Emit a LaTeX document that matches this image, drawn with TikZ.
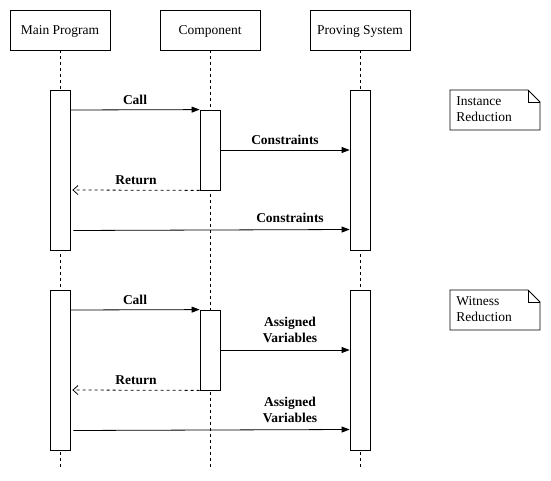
\documentclass[tikz,border=0pt]{standalone}
\usepackage{fontspec}
\setmainfont{Liberation Serif}
\usetikzlibrary{arrows.meta}
\begin{document}
\begin{tikzpicture}[x=1pt,y=-1pt,line width=0.8pt,
  head/.style={draw,minimum width=100pt,minimum height=40pt,inner sep=0pt,text depth=0pt,font=\fontsize{13.5}{15}\selectfont},
  act/.style={draw,fill=white,minimum width=20pt,inner sep=0pt},
  life/.style={dash pattern=on 3pt off 3pt},
  msg/.style={-{Triangle[length=8pt,width=6pt]}},
  ret/.style={dash pattern=on 3pt off 3pt,-{Straight Barb[length=5pt,width=9pt]}},
  lbl/.style={font=\bfseries\fontsize{13.5}{15.5}\selectfont,align=center,inner sep=0pt},
  note/.style={font=\fontsize{13.5}{16}\selectfont,align=left,anchor=north west,inner sep=0pt}]
\useasboundingbox (0,0) rectangle (551,481);
% headers
\node[head] (mp) at (60,30) {Main Program};
\node[head] (cp) at (210,30) {Component};
\node[head] (ps) at (360,30) {Proving System};
% lifelines
\coordinate (mpe) at (60,467);
\coordinate (cpe) at (210,467);
\coordinate (pse) at (360,467);
\draw[life] (mp.south) -- (mpe);
\draw[life] (cp.south) -- (cpe);
\draw[life] (ps.south) -- (pse);
% activations group 1
\node[act,minimum height=160pt] (m1) at (60,170) {};
\node[act,minimum height=80pt] (c1) at (210,150) {};
\node[act,minimum height=160pt] (p1) at (360,170) {};
% activations group 2
\node[act,minimum height=160pt] (m2) at (60,370) {};
\node[act,minimum height=80pt] (c2) at (210,350) {};
\node[act,minimum height=160pt] (p2) at (360,370) {};
% messages group 1
\draw[msg] (m1.east |- 0,110) -- (c1.north west) node[lbl,midway,above=5pt] {Call};
\draw[msg] (c1.east |- 0,150) -- (p1.west |- 0,150) node[lbl,midway,above=5pt] {Constraints};
\draw[ret] (c1.south west) -- ([xshift=2pt]m1.east |- 0,190) node[lbl,midway,above=5pt] {Return};
\draw[msg] ([xshift=3pt]m1.east |- 0,230.5) -- (p1.west |- 0,229.5);
\node[lbl] (l1) at (290,218) {Constraints};
% messages group 2
\draw[msg] (m2.east |- 0,310) -- (c2.north west) node[lbl,midway,above=5pt] {Call};
\draw[msg] (c2.east |- 0,350) -- (p2.west |- 0,350);
\node[lbl] (l2) at (290,330) {Assigned\\Variables};
\draw[ret] (c2.south west) -- ([xshift=2pt]m2.east |- 0,390) node[lbl,midway,above=5pt] {Return};
\draw[msg] ([xshift=3pt]m2.east |- 0,430.5) -- (p2.west |- 0,429.5);
\node[lbl] (l3) at (290,410) {Assigned\\Variables};
% notes
\draw[fill=white] (450,90) -- (528,90) -- (540,102) -- (540,130) -- (450,130) -- cycle;
\draw (528,90) -- (528,102) -- (540,102);
\node[note] (n1) at (456,96) {Instance\\Reduction};
\draw[fill=white] (450,290) -- (528,290) -- (540,302) -- (540,330) -- (450,330) -- cycle;
\draw (528,290) -- (528,302) -- (540,302);
\node[note] (n2) at (456,296) {Witness\\Reduction};
\end{tikzpicture}
\end{document}
